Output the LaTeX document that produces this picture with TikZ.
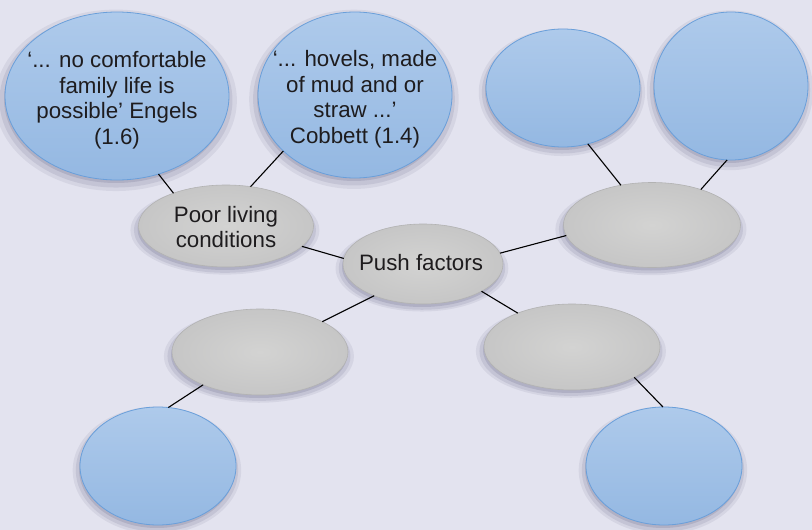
\documentclass[tikz,border=0pt]{standalone}
\usepackage{fontspec}
\setmainfont{Liberation Sans}
\usetikzlibrary{shapes.geometric,shadows}

\definecolor{pagebg}{HTML}{E3E3EF}
\definecolor{blobtop}{HTML}{AECAEB}
\definecolor{blobbot}{HTML}{94B8E2}
\definecolor{blobedge}{HTML}{6A9FDA}
\definecolor{hubin}{HTML}{D3D3D2}
\definecolor{hubout}{HTML}{C6C6C6}
\definecolor{hubedge}{HTML}{B2B2B2}
\definecolor{inktext}{HTML}{1E1C1E}

\tikzset{
  softshadow/.style={
    general shadow={fill=black!80!blue, opacity=0.06, shadow scale=1.08, shadow xshift=-1pt, shadow yshift=-4pt},
    general shadow={fill=black!80!blue, opacity=0.08, shadow scale=1.04, shadow xshift=-1pt, shadow yshift=-4pt},
    general shadow={fill=black!80!blue, opacity=0.10, shadow xshift=-1pt, shadow yshift=-3pt}},
  bluebubble/.style={ellipse, draw=blobedge, line width=0.8pt, top color=blobtop, bottom color=blobbot,
    inner sep=0pt, outer sep=0pt, softshadow},
  graybubble/.style={ellipse, draw=hubedge, line width=0.6pt, inner color=hubin, outer color=hubout,
    inner sep=0pt, outer sep=0pt, softshadow},
  bubbletext/.style={align=center, text=inktext, inner sep=0pt, font=\fontsize{22.3}{25.5}\selectfont},
  link/.style={draw=black, line width=1.1pt}
}

\begin{document}
\begin{tikzpicture}[x=1pt,y=-1pt]
  \fill[pagebg] (0,0) rectangle (812,530);

  % quotes
  \node[bluebubble, minimum width=224, minimum height=168] (engels) at (117,96) {};
  \node[bubbletext] (engelstext) at (117,100) {‘... no comfortable\\family life is\\possible’ Engels\\(1.6)};
  \node[bluebubble, minimum width=194, minimum height=166] (cobbett) at (355,95) {};
  \node[bubbletext] (cobbetttext) at (355,99) {‘... hovels, made\\of mud and or\\straw ...’\\Cobbett (1.4)};
  \node[bluebubble, minimum width=154, minimum height=118] (bluec) at (563,88) {};
  \node[bluebubble, minimum width=154, minimum height=148] (blued) at (731,86) {};
  \node[bluebubble, minimum width=156, minimum height=118] (bluee) at (158,466) {};
  \node[bluebubble, minimum width=156, minimum height=118] (bluef) at (664,466) {};

  % factors
  \node[graybubble, minimum width=175, minimum height=82] (poor) at (226,226) {};
  \node[bubbletext] (poortext) at (226,227) {Poor living\\conditions};
  \node[graybubble, minimum width=160, minimum height=80] (push) at (423,264) {};
  \node[bubbletext] (pushtext) at (421,263) {Push factors};
  \node[graybubble, minimum width=177, minimum height=85] (rightgray) at (652,225) {};
  \node[graybubble, minimum width=176, minimum height=86] (leftgray) at (260,352) {};
  \node[graybubble, minimum width=176, minimum height=86] (lowgray) at (572,347) {};

  % connectors
  \draw[link] (engels.-62) -- (poor.148);
  \draw[link] (cobbett.218) -- (poor.58);
  \draw[link] (poor.-15) -- (push.176);
  \draw[link] (push.8) -- (rightgray.187);
  \draw[link] (push.213) -- (leftgray.26);
  \draw[link] (push.-25) -- (lowgray.148);
  \draw[link] (bluec.-66) -- (rightgray.128);
  \draw[link] (blued.-93) -- (rightgray.36);
  \draw[link] (leftgray.-150) -- (bluee.80);
  \draw[link] (lowgray.-26) -- (bluef.91);
\end{tikzpicture}
\end{document}
